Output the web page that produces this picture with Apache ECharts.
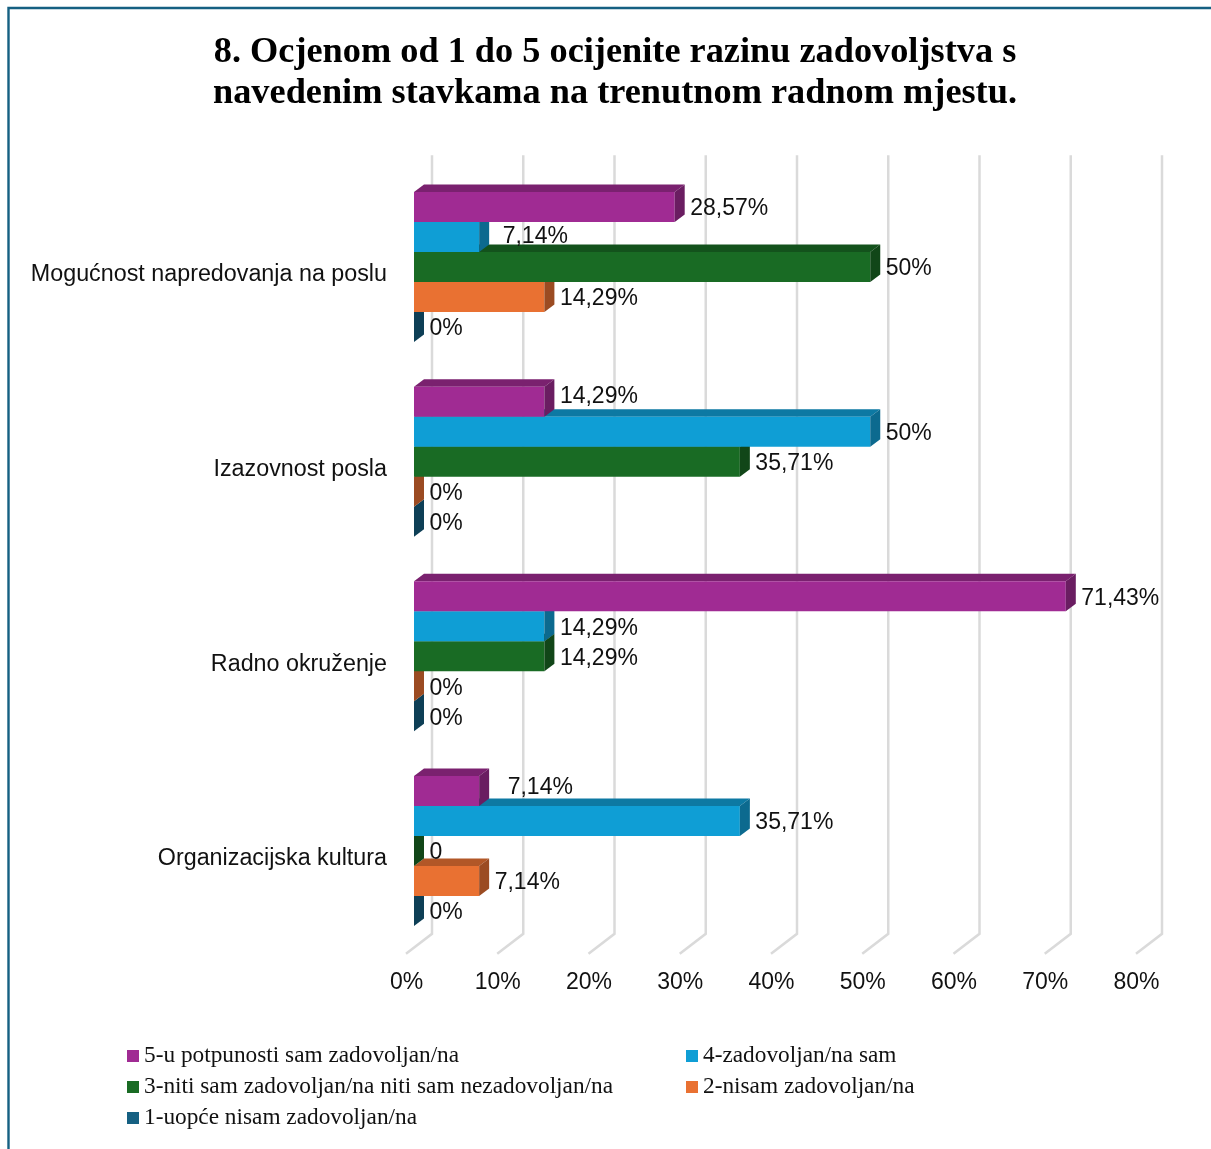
<!DOCTYPE html>
<html>
<head>
<meta charset="utf-8">
<style>html,body{margin:0;padding:0;background:#fff}#c{width:1211px;height:1149px}</style>
<script src="https://cdn.jsdelivr.net/npm/echarts@6/dist/echarts.min.js"></script>
</head>
<body>
<div id="c"></div>
<script>
const titleText = '8. Ocjenom od 1 do 5 ocijenite razinu zadovoljstva s\nnavedenim stavkama na trenutnom radnom mjestu.';
const categories = ['Mogućnost napredovanja na poslu', 'Izazovnost posla', 'Radno okruženje', 'Organizacijska kultura'];
const xTicks = [0, 10, 20, 30, 40, 50, 60, 70, 80];

const names5 = '5-u potpunosti sam zadovoljan/na';
const names4 = '4-zadovoljan/na sam';
const names3 = '3-niti sam zadovoljan/na niti sam nezadovoljan/na';
const names2 = '2-nisam zadovoljan/na';
const names1 = '1-uopće nisam zadovoljan/na';

const values5 = [28.57, 14.29, 71.43, 7.14];
const values4 = [7.14, 50, 14.29, 35.71];
const values3 = [50, 35.71, 14.29, 0];
const values2 = [14.29, 0, 0, 7.14];
const values1 = [0, 0, 0, 0];

const labels5 = ['28,57%', '14,29%', '71,43%', '7,14%'];
const labels4 = ['7,14%', '50%', '14,29%', '35,71%'];
const labels3 = ['50%', '35,71%', '14,29%', '0'];
const labels2 = ['14,29%', '0%', '0%', '7,14%'];
const labels1 = ['0%', '0%', '0%', '0%'];

const palette = [
  {front: '#A02B93', top: '#7A216F', side: '#6A1D61'},
  {front: '#0F9ED5', top: '#0D79A3', side: '#0C6A8F'},
  {front: '#196B24', top: '#13521C', side: '#114618'},
  {front: '#E97132', top: '#B25727', side: '#9B4B22'},
  {front: '#156082', top: '#104A64', side: '#0E3F56'}
];

// depth of the 3D bars and of the back wall, in pixels
const DX = 10, DY = 7.5, WALL_DX = 18, WALL_DY = 14.5, FLOOR_DX = 8, FLOOR_DY = 5.5;
const BAR_RATIO = 30 / 194.67;
// individually displaced labels: "series-category": [dx, dy]
const labelShift = {'1-0': [8, -2], '0-1': [0, -7], '0-3': [13, -5]};

function barSeries(name, values, labels, idx) {
  const c = palette[idx];
  return {
    type: 'custom',
    name: name,
    coordinateSystem: 'cartesian2d',
    z: 10 - idx,
    clip: false,
    itemStyle: {color: c.front},
    encode: {x: 0, y: 1},
    data: values.map((v, i) => [v, i]),
    renderItem: function (params, api) {
      const v = api.value(0), cat = api.value(1);
      const p0 = api.coord([0, cat]);
      const p1 = api.coord([v, cat]);
      const band = api.size([0, 1])[1];
      const h = band * BAR_RATIO;
      const x0 = p0[0], x1 = p1[0];
      const yT = p0[1] + (idx - 2.5) * h, yB = yT + h;
      const children = [];
      if (x1 > x0) {
        children.push({type: 'polygon', silent: true, shape: {points: [[x0, yT], [x1, yT], [x1 + DX, yT - DY], [x0 + DX, yT - DY]]}, style: {fill: c.top}});
        children.push({type: 'rect', silent: true, shape: {x: x0, y: yT, width: x1 - x0, height: h}, style: {fill: c.front}});
      }
      children.push({type: 'polygon', silent: true, shape: {points: [[x1, yT], [x1 + DX, yT - DY], [x1 + DX, yB - DY], [x1, yB]]}, style: {fill: c.side}});
      const s = labelShift[idx + '-' + cat] || [0, 0];
      children.push({type: 'text', silent: true, style: {
        text: labels[cat], x: x1 + DX + 5.5 + s[0], y: (yT + yB) / 2 + 2 + s[1],
        fill: '#111', fontSize: 23, fontFamily: '"Liberation Sans", Arial, sans-serif', verticalAlign: 'middle', align: 'left'
      }});
      return {type: 'group', children: children};
    }
  };
}

const wallSeries = {
  type: 'custom',
  coordinateSystem: 'cartesian2d',
  z: 1,
  clip: false,
  silent: true,
  encode: {x: 0},
  data: xTicks.map(v => [v, 0]),
  renderItem: function (params, api) {
    const x = api.coord([api.value(0), 0])[0];
    const r = params.coordSys;
    const top = r.y - WALL_DY, bot = r.y + r.height - WALL_DY;
    return {type: 'polyline', silent: true, shape: {points: [[x + WALL_DX, top], [x + WALL_DX, bot], [x - FLOOR_DX, r.y + r.height + FLOOR_DY]]},
      style: {stroke: '#DADADA', lineWidth: 2.5, fill: 'none'}};
  }
};

const chart = echarts.init(document.getElementById('c'), null, {renderer: 'canvas'});
const serif = '"Liberation Serif", "Times New Roman", serif';
const legendBase = {
  orient: 'vertical', icon: 'rect', itemWidth: 12, itemHeight: 12, itemGap: 7,
  textStyle: {fontFamily: serif, fontSize: 23.3, color: '#111', lineHeight: 24},
  selectedMode: false
};
chart.setOption({
  animation: false,
  backgroundColor: '#fff',
  title: {
    text: titleText, left: 610, top: 27, textAlign: 'center',
    textStyle: {fontFamily: serif, fontWeight: 'bold', fontSize: 36.3, color: '#000', lineHeight: 41}
  },
  legend: [
    Object.assign({}, legendBase, {left: 122, top: 1039, data: [names5, names3, names1]}),
    Object.assign({}, legendBase, {left: 681, top: 1039, data: [names4, names2]})
  ],
  grid: {left: 414, top: 169.67, width: 730, height: 778.67, containLabel: false},
  xAxis: {
    type: 'value', min: 0, max: 80, interval: 10, position: 'bottom',
    axisLine: {show: false}, axisTick: {show: false}, splitLine: {show: false},
    axisLabel: {formatter: '{value}%', color: '#111', fontSize: 23, fontFamily: '"Liberation Sans", Arial, sans-serif', margin: 23, padding: [0, 15, 0, 0]}
  },
  yAxis: {
    type: 'category', inverse: true, data: categories,
    axisLine: {show: false}, axisTick: {show: false}, splitLine: {show: false},
    axisLabel: {color: '#111', fontSize: 23.3, fontFamily: '"Liberation Sans", Arial, sans-serif', margin: 27, verticalAlign: 'top', lineHeight: 16}
  },
  graphic: [
    {type: 'polyline', silent: true, z: 100, shape: {points: [[8.5, 1149], [8.5, 8], [1211, 8]]}, style: {stroke: '#156082', lineWidth: 2.4, fill: 'none'}}
  ],
  series: [
    wallSeries,
    barSeries(names5, values5, labels5, 0),
    barSeries(names4, values4, labels4, 1),
    barSeries(names3, values3, labels3, 2),
    barSeries(names2, values2, labels2, 3),
    barSeries(names1, values1, labels1, 4)
  ]
});
</script>
</body>
</html>
